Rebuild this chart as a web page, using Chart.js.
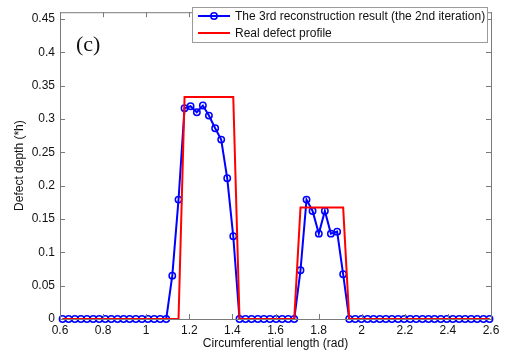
<!DOCTYPE html>
<html>
<head>
<meta charset="utf-8">
<script src="https://cdn.jsdelivr.net/npm/chart.js@4/dist/chart.umd.min.js"></script>
<style>
  html, body { margin: 0; padding: 0; background: #fff; }
  #wrap { width: 505px; height: 355px; position: relative; }
</style>
</head>
<body>
<div id="wrap"><canvas id="chart"></canvas></div>
<script>
// circumferential positions (rad)
const angles = [
  0.612, 0.640, 0.669, 0.697, 0.725, 0.754, 0.782, 0.810, 0.838, 0.867,
  0.895, 0.923, 0.952, 0.980, 1.008, 1.037, 1.065, 1.093, 1.121, 1.150,
  1.178, 1.206, 1.235, 1.263, 1.291, 1.320, 1.348, 1.376, 1.404, 1.433,
  1.461, 1.489, 1.518, 1.546, 1.574, 1.603, 1.631, 1.659, 1.687, 1.716,
  1.744, 1.772, 1.801, 1.829, 1.857, 1.886, 1.914, 1.942, 1.970, 1.999,
  2.027, 2.055, 2.084, 2.112, 2.140, 2.169, 2.197, 2.225, 2.253, 2.282,
  2.310, 2.338, 2.367, 2.395, 2.423, 2.452, 2.480, 2.508, 2.536, 2.565,
  2.593
];

// reconstruction (3rd result, 2nd iteration)
const reconstructed = [
  0, 0, 0, 0, 0, 0, 0, 0, 0, 0,
  0, 0, 0, 0, 0, 0, 0, 0, 0.065, 0.179,
  0.316, 0.319, 0.310, 0.320, 0.305, 0.286, 0.269, 0.211, 0.124, 0,
  0, 0, 0, 0, 0, 0, 0, 0, 0, 0.073,
  0.179, 0.162, 0.128, 0.162, 0.128, 0.131, 0.067, 0, 0, 0,
  0, 0, 0, 0, 0, 0, 0, 0, 0, 0,
  0, 0, 0, 0, 0, 0, 0, 0, 0, 0,
  0
];

// real defect profile
const realProfile = [
  0, 0, 0, 0, 0, 0, 0, 0, 0, 0,
  0, 0, 0, 0, 0, 0, 0, 0, 0, 0,
  0.333, 0.333, 0.333, 0.333, 0.333, 0.333, 0.333, 0.333, 0.333, 0,
  0, 0, 0, 0, 0, 0, 0, 0, 0, 0.167,
  0.167, 0.167, 0.167, 0.167, 0.167, 0.167, 0.167, 0, 0, 0,
  0, 0, 0, 0, 0, 0, 0, 0, 0, 0,
  0, 0, 0, 0, 0, 0, 0, 0, 0, 0,
  0
];

const seriesNames = [
  'The 3rd reconstruction result (the 2nd iteration)',
  'Real defect profile'
];
const panelLabel = '(c)';

const BLUE = '#0000ff';
const RED = '#ff0000';
const AXIS = '#7a7a7a';
const sansFont = "'Liberation Sans', Arial, sans-serif";

const toPoints = (ys) => ys.map((y, i) => ({ x: angles[i], y }));
const fmt = (v) => String(+Number(v).toFixed(2));

// box around the plot with inward tick marks, matlab style
const framePlugin = {
  id: 'frame',
  afterDraw(chart) {
    const { ctx, chartArea: a, scales } = chart;
    ctx.save();
    ctx.strokeStyle = AXIS;
    ctx.lineWidth = 1;
    ctx.strokeRect(a.left + 0.5, a.top + 0.5, a.right - a.left, a.bottom - a.top);
    const len = 5;
    ctx.beginPath();
    scales.x.ticks.forEach((t) => {
      const px = Math.round(scales.x.getPixelForValue(t.value)) + 0.5;
      ctx.moveTo(px, a.bottom); ctx.lineTo(px, a.bottom - len);
      ctx.moveTo(px, a.top); ctx.lineTo(px, a.top + len);
    });
    scales.y.ticks.forEach((t) => {
      const py = Math.round(scales.y.getPixelForValue(t.value)) + 0.5;
      ctx.moveTo(a.left, py); ctx.lineTo(a.left + len, py);
      ctx.moveTo(a.right, py); ctx.lineTo(a.right - len, py);
    });
    ctx.stroke();

    // panel label
    ctx.fillStyle = '#111';
    ctx.font = "22px 'Liberation Serif', 'Times New Roman', serif";
    ctx.textBaseline = 'middle';
    ctx.textAlign = 'left';
    ctx.fillText(panelLabel, 76, 45);

    // legend box
    const lx = 192, ly = 7, lw = 295, lh = 35;
    ctx.fillStyle = '#fff';
    ctx.fillRect(lx, ly, lw, lh);
    ctx.strokeStyle = '#9a9a9a';
    ctx.strokeRect(lx + 0.5, ly + 0.5, lw, lh);
    const rows = [16, 33];
    ctx.lineWidth = 2;
    ctx.strokeStyle = BLUE;
    ctx.beginPath(); ctx.moveTo(198, rows[0]); ctx.lineTo(230, rows[0]); ctx.stroke();
    ctx.lineWidth = 1.5;
    ctx.beginPath(); ctx.arc(214, rows[0], 3.2, 0, Math.PI * 2); ctx.stroke();
    ctx.lineWidth = 2;
    ctx.strokeStyle = RED;
    ctx.beginPath(); ctx.moveTo(198, rows[1]); ctx.lineTo(230, rows[1]); ctx.stroke();
    ctx.fillStyle = '#111';
    ctx.font = '12px ' + sansFont;
    seriesNames.forEach((name, i) => ctx.fillText(name, 235, rows[i] + 1));
    ctx.restore();
  }
};

new Chart(document.getElementById('chart'), {
  type: 'line',
  data: {
    datasets: [
      {
        label: seriesNames[0],
        data: toPoints(reconstructed),
        borderColor: BLUE,
        borderWidth: 2,
        backgroundColor: 'transparent',
        pointRadius: 3.2,
        pointBorderWidth: 1.5,
        pointBorderColor: BLUE,
        pointBackgroundColor: 'transparent',
        tension: 0,
        clip: false,
        order: 1
      },
      {
        label: seriesNames[1],
        data: toPoints(realProfile),
        borderColor: RED,
        borderWidth: 2,
        pointRadius: 0,
        tension: 0,
        clip: false,
        order: 0
      }
    ]
  },
  options: {
    responsive: true,
    maintainAspectRatio: false,
    animation: false,
    events: [],
    layout: { padding: { left: 0, top: 6, right: 14, bottom: 0 } },
    plugins: {
      legend: { display: false },
      tooltip: { enabled: false }
    },
    scales: {
      x: {
        type: 'linear',
        min: 0.6,
        max: 2.6,
        grid: { display: false, drawTicks: false },
        border: { display: false },
        ticks: {
          stepSize: 0.2,
          includeBounds: false,
          padding: 4,
          color: '#111',
          maxRotation: 0,
          autoSkip: false,
          font: { family: sansFont, size: 12 },
          callback: fmt
        },
        title: {
          display: true,
          text: 'Circumferential length (rad)',
          color: '#111',
          font: { family: sansFont, size: 12 },
          padding: { top: 0, bottom: 4.5 }
        },
        afterFit(scale) { scale.height = 36; }
      },
      y: {
        min: 0,
        max: 0.46,
        grid: { display: false, drawTicks: false },
        border: { display: false },
        ticks: {
          stepSize: 0.05,
          includeBounds: false,
          padding: 5,
          color: '#111',
          autoSkip: false,
          font: { family: sansFont, size: 12 },
          callback: fmt
        },
        title: {
          display: true,
          text: 'Defect depth (*h)',
          color: '#111',
          font: { family: sansFont, size: 12 },
          padding: { top: 12.8, bottom: 0 }
        },
        afterFit(scale) { scale.width = 60; }
      }
    }
  },
  plugins: [framePlugin]
});
</script>
</body>
</html>
